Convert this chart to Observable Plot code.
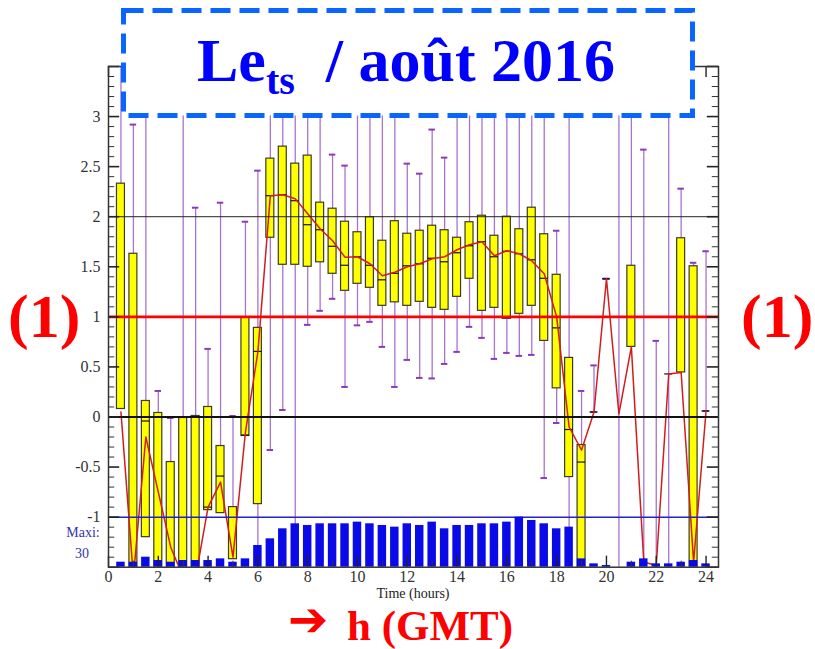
<!DOCTYPE html>
<html>
<head>
<meta charset="utf-8">
<script src="https://cdn.jsdelivr.net/npm/d3@7"></script>
<script src="https://cdn.jsdelivr.net/npm/@observablehq/plot@0.6"></script>
<style>
  body { margin: 0; background: #fff; }
  #wrap { position: relative; width: 815px; height: 649px; overflow: hidden; background: #fff; }
  #wrap > svg { position: absolute; left: 0; top: 0; }
  #notes { pointer-events: none; }
</style>
</head>
<body>
<div id="wrap"></div>
<script>
// Half-hourly statistics of Le_ts, August 2016 (hours GMT)
const hours = [0.5, 1, 1.5, 2, 2.5, 3, 3.5, 4, 4.5, 5, 5.5, 6,
  6.5, 7, 7.5, 8, 8.5, 9, 9.5, 10, 10.5, 11, 11.5, 12,
  12.5, 13, 13.5, 14, 14.5, 15, 15.5, 16, 16.5, 17, 17.5, 18,
  18.5, 19, 19.5, 20, 20.5, 21, 21.5, 22, 22.5, 23, 23.5, 24];

// box: first and third quartile (null = no box)
const boxLow = [0.08, -1.6, -1.2, -1.6, -1.6, -1.6, -1.6, -0.93, -0.96, -1.42, -0.19, -0.87,
  1.79, 1.52, 1.52, 1.50, 1.545, 1.43, 1.26, 1.33, 1.29, 1.11, 1.145, 1.11,
  1.15, 1.09, 1.07, 1.20, 1.38, 1.06, 1.09, 0.98, 1.03, 1.11, 0.76, 0.286,
  -0.60, -1.6, null, null, null, 0.70, null, null, null, 0.445, -1.6, null];
const boxHigh = [2.33, 1.63, 0.16, 0.04, -0.45, -0.01, 0.01, 0.10, -0.29, -0.90, 0.99, 0.89,
  2.58, 2.70, 2.53, 2.61, 2.14, 2.08, 1.95, 1.845, 1.995, 1.76, 1.955, 1.83,
  1.86, 1.91, 1.865, 1.79, 1.945, 2.01, 1.81, 2.00, 1.875, 2.09, 1.825, 1.42,
  0.59, -0.28, null, null, null, 1.51, null, null, null, 1.785, 1.505, null];
const medians = [null, null, -0.04, null, null, null, null, -0.90, -0.59, null, -0.18, 0.655,
  2.21, 2.22, 2.16, 1.92, 1.87, 1.705, 1.515, 1.60, 1.515, 1.37, 1.435, 1.51,
  1.53, 1.585, 1.55, 1.64, 1.71, 1.75, 1.60, 1.655, 1.63, 1.57, 1.385, 0.89,
  -0.125, -0.45, 0.05, 1.38, null, null, null, null, 0.43, null, null, 0.06];
// whiskers (values outside -1.5..3.5 run past the frame)
const whiskerLow = [0.08, -1.6, -1.2, -1.6, -1.6, -1.6, -1.6, -0.93, -0.96, -1.42, -0.19, -1.6,
  -0.33, 0.07, -1.6, 0.92, 1.06, 1.18, 0.30, 0.915, 0.95, 0.70, 0.30, 0.57,
  0.39, 0.385, 0.53, 0.65, 0.90, 0.79, 0.58, 0.64, 0.61, 0.62, -0.61, -0.06,
  -1.6, -1.6, 0.05, 1.38, -1.6, 0.70, -1.6, -1.6, -1.6, 0.445, -1.6, 0.06];
const whiskerHigh = [3.6, 2.92, 3.6, 0.26, -0.01, 3.6, 2.09, 0.68, 2.14, 0.01, 1.95, 2.46,
  3.6, 3.6, 3.6, 3.6, 3.6, 2.62, 2.51, 3.6, 3.6, 3.6, 3.6, 2.53,
  2.43, 2.87, 2.59, 3.6, 3.6, 3.6, 3.6, 3.6, 3.6, 3.6, 3.6, 1.86,
  3.6, 0.26, 0.515, 1.38, 3.6, 3.6, 2.67, 0.76, 3.6, 2.28, 1.54, 1.655];
// mean curve
const means = [0.05, -1.6, -0.2, -0.75, -1.3, -1.6, -1.6, -0.9, -0.65, -1.4, -0.15, 0.65,
  2.21, 2.22, 2.18, 2.03, 1.88, 1.76, 1.595, 1.60, 1.53, 1.41, 1.445, 1.50,
  1.53, 1.58, 1.60, 1.67, 1.72, 1.75, 1.61, 1.66, 1.63, 1.56, 1.43, 1.0,
  -0.1, -0.33, 0.05, 1.38, 0.03, 0.70, -1.45, -1.48, 0.43, 0.445, -1.45, 0.06];
// number of values per half hour (bar strip, full height = maxCount)
const counts = [3, 3, 6, 4, 3, 4, 4, 4, 5, 3, 5, 13,
  17, 23, 26, 25, 26, 26, 26, 27, 26, 25, 24, 26,
  25, 27, 23, 25, 25, 26, 26, 27, 30, 28, 26, 23,
  24, 5, 2, 1, 0, 3, 5, 2, 2, 3, 4, 2];
const maxCount = 30;
const countStrip = [-1.5, -1]; // value range used by the count bars

const refLines = [2, 1, 0, -1];
const yLabels = [-1, -0.5, 0, 0.5, 1, 1.5, 2, 2.5, 3];
const xLabels = [0, 2, 4, 6, 8, 10, 12, 14, 16, 18, 20, 22, 24];
const xDomain = [0, 24.5];
const yDomain = [-1.5, 3.5];

const rows = hours.map((t, i) => ({
  t, q1: boxLow[i], q3: boxHigh[i], med: medians[i], mean: means[i],
  lo: whiskerLow[i], hi: whiskerHigh[i], n: counts[i]
}));
const inY = v => v != null && v >= yDomain[0] && v <= yDomain[1];
const caps = [];
for (const d of rows) {
  for (const v of [d.lo, d.hi]) {
    const onBox = d.q1 != null && v >= d.q1 && v <= d.q3;
    if (inY(v) && !onBox) caps.push({t: d.t, v});
  }
}

const boxHalf = 0.16, barHalf = 0.17, capHalf = 0.13;
const yMajor = d3.range(-1.5, 3.51, 0.5);
const yMinor = d3.range(-1.5, 3.51, 0.1).filter(v => Math.abs(v * 2 - Math.round(v * 2)) > 1e-6);
const xMajor = d3.range(0, 24.1, 2);
const xMinor = d3.range(1, 24.1, 2);
const fmt = d => String(d);

const chart = Plot.plot({
  width: 815,
  height: 610,
  marginLeft: 108,
  marginRight: 97,
  marginTop: 66,
  marginBottom: 43.3,
  x: {domain: xDomain},
  y: {domain: yDomain},
  style: {fontFamily: "'Liberation Serif', serif", fontSize: "16px", color: "#333", background: "transparent"},
  marks: [
    // whiskers
    Plot.ruleX(rows, {x: "t", y1: "lo", y2: "hi", stroke: "#a874cf", strokeWidth: 1.3, clip: true}),
    Plot.ruleY(caps, {y: "v", x1: d => d.t - capHalf, x2: d => d.t + capHalf, stroke: "#8a3bb8", strokeWidth: 2}),
    // boxes
    Plot.rect(rows.filter(d => d.q1 != null), {
      x1: d => d.t - boxHalf, x2: d => d.t + boxHalf, y1: "q1", y2: "q3",
      fill: "#ffff00", stroke: "#3c3c20", strokeWidth: 1.2, clip: true
    }),
    Plot.ruleY(rows.filter(d => d.med != null), {
      y: "med", x1: d => d.t - boxHalf, x2: d => d.t + boxHalf, stroke: "#111", strokeWidth: 1.2
    }),
    // mean
    Plot.line(rows, {x: "t", y: "mean", stroke: "#d21d1d", strokeWidth: 1.5, clip: true}),
    // reference levels
    Plot.ruleY([refLines[0]], {stroke: "#222", strokeWidth: 1}),
    Plot.ruleY([refLines[1]], {stroke: "#ff0000", strokeWidth: 2.6}),
    Plot.ruleY([refLines[2]], {stroke: "#111", strokeWidth: 1.8}),
    Plot.ruleY([refLines[3]], {stroke: "#2222c8", strokeWidth: 1.5}),
    // counts
    Plot.rect(rows.filter(d => d.n > 0), {
      x1: d => d.t - barHalf, x2: d => d.t + barHalf,
      y1: countStrip[0], y2: d => countStrip[0] + d.n / maxCount * (countStrip[1] - countStrip[0]),
      fill: "#0a0ae8"
    }),
    // inward ticks
    Plot.ruleY(yMajor, {x1: xDomain[0], x2: xDomain[0] + 0.45, stroke: "#222", strokeWidth: 1.6}),
    Plot.ruleY(yMinor, {x1: xDomain[0], x2: xDomain[0] + 0.25, stroke: "#333", strokeWidth: 1}),
    Plot.ruleY(yMajor, {x1: xDomain[1] - 0.45, x2: xDomain[1], stroke: "#222", strokeWidth: 1.6}),
    Plot.ruleY(yMinor, {x1: xDomain[1] - 0.25, x2: xDomain[1], stroke: "#333", strokeWidth: 1}),
    Plot.ruleX(xMajor, {y1: yDomain[0], y2: yDomain[0] + 0.11, stroke: "#222", strokeWidth: 1.4}),
    Plot.ruleX(xMinor, {y1: yDomain[0], y2: yDomain[0] + 0.06, stroke: "#333", strokeWidth: 1}),
    Plot.ruleX(xMajor, {y1: yDomain[1] - 0.11, y2: yDomain[1], stroke: "#222", strokeWidth: 1.4}),
    Plot.ruleX(xMinor, {y1: yDomain[1] - 0.06, y2: yDomain[1], stroke: "#333", strokeWidth: 1}),
    Plot.axisY({ticks: yLabels, tickSize: 0, tickPadding: 8, tickFormat: fmt, label: null}),
    Plot.axisX({ticks: xLabels, tickSize: 0, tickPadding: 3, tickFormat: fmt, label: null}),
    Plot.frame({stroke: "#333", strokeWidth: 1.5})
  ]
});

const wrap = document.getElementById("wrap");
wrap.appendChild(chart);

// annotations drawn over the chart
const NS = "http://www.w3.org/2000/svg";
const notes = document.createElementNS(NS, "svg");
notes.setAttribute("id", "notes");
notes.setAttribute("width", 815);
notes.setAttribute("height", 649);
notes.innerHTML = `
  <rect x="123.5" y="10.5" width="569" height="105" fill="#fff" stroke="#0a64ff" stroke-width="5" stroke-dasharray="20 9"/>
  <text x="197" y="81" font-family="Liberation Serif" font-weight="bold" font-size="62" fill="#0000ff" style="white-space:pre">Le<tspan font-size="40" dy="13">ts</tspan><tspan dy="-13" font-size="62">  / août 2016</tspan></text>
  <text x="8" y="337" font-family="Liberation Serif" font-weight="bold" font-size="62" fill="#ff0000">(1)</text>
  <text x="741" y="337" font-family="Liberation Serif" font-weight="bold" font-size="62" fill="#ff0000">(1)</text>
  <text x="83" y="537" text-anchor="middle" font-family="Liberation Serif" font-size="14" fill="#3535a8">Maxi:</text>
  <text x="82" y="558" text-anchor="middle" font-family="Liberation Serif" font-size="14" fill="#3535a8">30</text>
  <text x="413" y="598" text-anchor="middle" font-family="Liberation Serif" font-size="14" fill="#222">Time (hours)</text>
  <text x="288" y="636" font-family="DejaVu Sans" font-weight="bold" font-size="48" fill="#ff0000">➔</text>
  <text x="347" y="639.5" font-family="Liberation Serif" font-weight="bold" font-size="43" fill="#ff0000">h (GMT)</text>
`;
wrap.appendChild(notes);
</script>
</body>
</html>
